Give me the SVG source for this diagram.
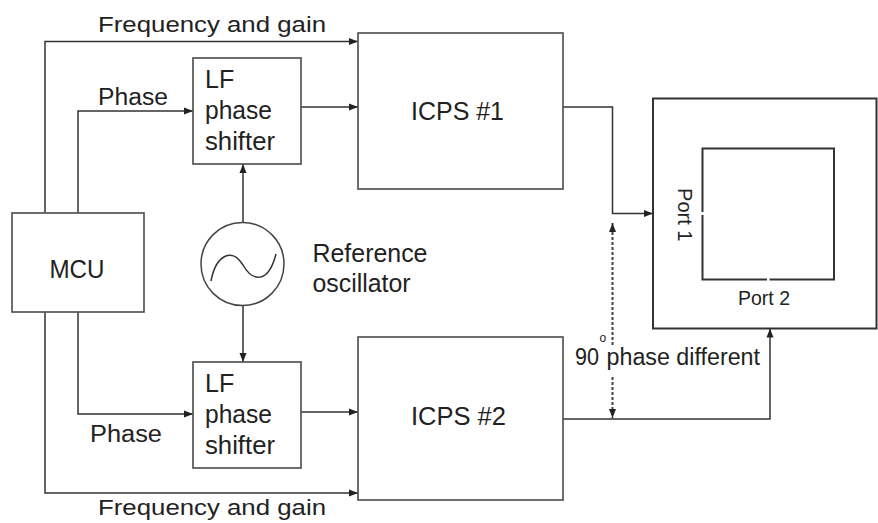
<svg xmlns="http://www.w3.org/2000/svg" width="878" height="523" viewBox="0 0 878 523">
<style>
.box{fill:#fff;stroke:#555;stroke-width:1.7}
.obox{fill:none;stroke:#333;stroke-width:2}
.ln{fill:none;stroke:#333;stroke-width:1.5}
.dot{fill:none;stroke:#444;stroke-width:2;stroke-dasharray:3 2}
text{font-family:"Liberation Sans",Arial,sans-serif;fill:#222}
.t25{font-size:25px}
.t23{font-size:23px}
.t22{font-size:22px}
.t20{font-size:20px}
</style>
<defs>
<marker id="ah" markerUnits="userSpaceOnUse" markerWidth="9" markerHeight="8" refX="9" refY="4" orient="auto-start-reverse">
<path d="M0,0.5 L9,4 L0,7.5 z" fill="#222"/>
</marker>
</defs>
<rect width="878" height="523" fill="#fff"/>
<g id="connectors">
<path class="ln" d="M45,213 V41.5 H358" marker-end="url(#ah)"/>
<path class="ln" d="M78,213 V111 H193" marker-end="url(#ah)"/>
<path class="ln" d="M78,312 V414 H193" marker-end="url(#ah)"/>
<path class="ln" d="M45,312 V493 H358" marker-end="url(#ah)"/>
<path class="ln" d="M301,107 H358" marker-end="url(#ah)"/>
<path class="ln" d="M301,412 H358" marker-end="url(#ah)"/>
<path class="ln" d="M243,222 V164" marker-end="url(#ah)"/>
<path class="ln" d="M243,306 V362" marker-end="url(#ah)"/>
<path class="ln" d="M563,107 H612.5 V213.5 H653" marker-end="url(#ah)"/>
<path class="ln" d="M563,419 H770 V328.5" marker-end="url(#ah)"/>
<path class="dot" d="M612.5,345 V223" marker-end="url(#ah)"/>
<path class="dot" d="M612.5,377 V418" marker-end="url(#ah)"/>
</g>
<g id="mcu">
<rect class="box" x="12" y="213" width="132" height="99"/>
<text class="t25" x="49.5" y="278" textLength="55" lengthAdjust="spacingAndGlyphs">MCU</text>
</g>
<g id="lf1">
<rect class="box" x="193" y="58" width="108" height="106"/>
<text class="t25" x="205" y="88.3">LF</text>
<text class="t25" x="205" y="119.3" textLength="67" lengthAdjust="spacingAndGlyphs">phase</text>
<text class="t25" x="205" y="150" textLength="70" lengthAdjust="spacingAndGlyphs">shifter</text>
</g>
<g id="lf2">
<rect class="box" x="193" y="362" width="108" height="106"/>
<text class="t25" x="205" y="392.3">LF</text>
<text class="t25" x="205" y="423.3" textLength="67" lengthAdjust="spacingAndGlyphs">phase</text>
<text class="t25" x="205" y="454" textLength="70" lengthAdjust="spacingAndGlyphs">shifter</text>
</g>
<g id="icps1">
<rect class="box" x="358" y="33" width="205" height="156"/>
<text class="t25" x="411" y="120" textLength="93" lengthAdjust="spacingAndGlyphs">ICPS #1</text>
</g>
<g id="icps2">
<rect class="box" x="358" y="337" width="205" height="163"/>
<text class="t25" x="411" y="425" textLength="95" lengthAdjust="spacingAndGlyphs">ICPS #2</text>
</g>
<g id="oscillator">
<circle cx="242.5" cy="264" r="41.5" fill="#fff" stroke="#444" stroke-width="1.5"/>
<path d="M211,281 C216,255 232,247 243,265 C252,281 268,285 276,254" fill="none" stroke="#333" stroke-width="1.5"/>
<text class="t25" x="312.5" y="261.7" textLength="115" lengthAdjust="spacingAndGlyphs">Reference</text>
<text class="t25" x="312.5" y="291.7" textLength="98" lengthAdjust="spacingAndGlyphs">oscillator</text>
</g>
<g id="device">
<path class="obox" d="M653,98.5 H876.5 V328.5 H653 Z"/>
<path class="obox" d="M702.5,212 V148.5 H834 V279.5 H769.5 M767,279.5 H702.5 V215"/>
<text class="t20" transform="translate(678,188) rotate(90)" textLength="53.5" lengthAdjust="spacingAndGlyphs">Port 1</text>
<text class="t20" x="738" y="305" textLength="52" lengthAdjust="spacingAndGlyphs">Port 2</text>
</g>
<g id="labels">
<text class="t22" x="98" y="31.7" textLength="228" lengthAdjust="spacingAndGlyphs">Frequency and gain</text>
<text class="t22" x="98" y="515" textLength="228" lengthAdjust="spacingAndGlyphs">Frequency and gain</text>
<text class="t23" x="98" y="105" textLength="70" lengthAdjust="spacingAndGlyphs">Phase</text>
<text class="t23" x="90" y="441.7" textLength="72" lengthAdjust="spacingAndGlyphs">Phase</text>
<text class="t23" x="575" y="365" textLength="24" lengthAdjust="spacingAndGlyphs">90</text>
<text x="599.5" y="341.5" font-size="12">o</text>
<text class="t23" x="606.5" y="365" textLength="153.5" lengthAdjust="spacingAndGlyphs">phase different</text>
</g>
</svg>
